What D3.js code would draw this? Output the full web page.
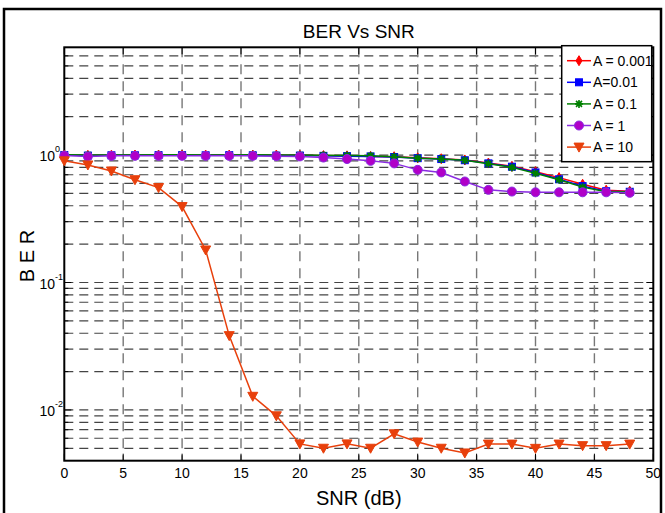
<!DOCTYPE html>
<html><head><meta charset="utf-8">
<script src="https://cdn.jsdelivr.net/npm/d3@7"></script>
<style>body{margin:0;background:#fff}svg{display:block}</style>
</head><body>
<svg id="c" width="665" height="513"></svg>
<script>
const snr = [0,2,4,6,8,10,12,14,16,18,20,22,24,26,28,30,32,34,36,38,40,42,44,46,48];
const berA0001 = [1.0,0.995,0.998,1.0,1.0,1.0,1.0,1.0,1.0,1.0,0.995,0.99,0.985,0.975,0.97,0.95,0.935,0.915,0.865,0.815,0.74,0.665,0.59,0.53,0.52];
const berA001 = [1.0,0.99,0.995,0.995,0.998,0.998,0.995,0.998,0.995,0.99,0.99,0.985,0.98,0.975,0.965,0.945,0.93,0.91,0.86,0.81,0.73,0.645,0.57,0.52,0.515];
const berA01 = [1.005,1.0,1.0,1.0,1.003,1.003,1.0,1.0,1.005,1.0,1.0,0.995,0.99,0.985,0.97,0.945,0.93,0.91,0.855,0.80,0.72,0.64,0.56,0.515,0.515];
const berA1 = [0.99,0.975,0.985,0.985,0.985,0.985,0.985,0.985,0.985,0.98,0.975,0.955,0.93,0.90,0.86,0.765,0.73,0.62,0.533,0.517,0.51,0.51,0.51,0.51,0.505];
const berA10 = [0.90,0.836,0.75,0.64,0.555,0.394,0.18,0.0383,0.0128,0.009,0.00542,0.00501,0.00542,0.00501,0.0065,0.0056,0.00501,0.0046,0.0054,0.0054,0.0050,0.0054,0.00525,0.00525,0.0054];
const seriesNames = ["A = 0.001","A=0.01","A = 0.1","A = 1","A = 10"];
const xTicks = [0,5,10,15,20,25,30,35,40,45,50];
const yDecades = [0.01,0.1,1];
const yDecadeExp = ["-2","-1","0"];

const series = [
  {name:seriesNames[0], data:berA0001, color:"#ff0000", fill:"#ff0000", marker:"diamond"},
  {name:seriesNames[1], data:berA001, color:"#0000ff", fill:"#0000ff", marker:"square"},
  {name:seriesNames[2], data:berA01, color:"#008000", fill:"#008000", marker:"star"},
  {name:seriesNames[3], data:berA1, color:"#8a2be2", fill:"#b000c8", marker:"circle"},
  {name:seriesNames[4], data:berA10, color:"#e8400c", fill:"#e8400c", marker:"tri"}
];

const svg = d3.select("#c");
const L=64.3, R=653.3, T=47.3, B=460.7;
const x = d3.scaleLinear([0,50],[L,R]);
const y = d3.scaleLog([0.004,7],[B,T]);
const font = "'Liberation Sans Narrow','Liberation Sans',Arial,sans-serif";

// outer figure border
svg.append("rect").attr("x",4).attr("y",9).attr("width",657).attr("height",520)
  .attr("fill","#fff").attr("stroke","#000").attr("stroke-width",2.5);
svg.append("rect").attr("x",L).attr("y",T).attr("width",R-L).attr("height",B-T).attr("fill","#fff");

// grid values
const minor = [];
for (const e of [-3,-2,-1,0]) for (let k=1;k<=9;k++){ const v=k*Math.pow(10,e); if(v>0.004*1.0001 && v<7*0.9999) minor.push(v); }
const g = svg.append("g");
g.selectAll(".hg").data(minor).join("line")
  .attr("x1",L).attr("x2",R).attr("y1",d=>y(d)).attr("y2",d=>y(d))
  .attr("stroke","#444").attr("stroke-width",1.2).attr("stroke-dasharray","9,6");
g.selectAll(".vg").data(xTicks.filter(t=>t>0&&t<50)).join("line")
  .attr("x1",d=>x(d)).attr("x2",d=>x(d)).attr("y1",T).attr("y2",B)
  .attr("stroke","#777").attr("stroke-width",1.4).attr("stroke-dasharray","10,7");

// ticks
const tk = svg.append("g").attr("stroke","#000").attr("stroke-width",1);
minor.forEach(v=>{
  const len = yDecades.includes(v)?7:4;
  tk.append("line").attr("x1",L).attr("x2",L+len).attr("y1",y(v)).attr("y2",y(v));
  tk.append("line").attr("x1",R).attr("x2",R-len).attr("y1",y(v)).attr("y2",y(v));
});
xTicks.forEach(t=>{
  tk.append("line").attr("x1",x(t)).attr("x2",x(t)).attr("y1",B).attr("y2",B-7);
  tk.append("line").attr("x1",x(t)).attr("x2",x(t)).attr("y1",T).attr("y2",T+7);
});

// frame
svg.append("rect").attr("x",L).attr("y",T).attr("width",R-L).attr("height",B-T)
  .attr("fill","none").attr("stroke","#000").attr("stroke-width",2);

// tick labels
svg.append("g").selectAll("text").data(xTicks).join("text")
  .attr("x",d=>x(d)).attr("y",478).attr("text-anchor","middle")
  .attr("font-family",font).attr("font-size",14).text(d=>d);
yDecades.forEach((v,i)=>{
  const t = svg.append("text").attr("x",55).attr("y",y(v)+6).attr("text-anchor","end")
    .attr("font-family",font).attr("font-size",14).text("10");
  svg.append("text").attr("x",55).attr("y",y(v)-3).attr("text-anchor","start")
    .attr("font-family",font).attr("font-size",9).text(yDecadeExp[i]);
});

// markers
function marker(sel, type, cx, cy, s){
  const gm = sel.append("g").attr("transform",`translate(${cx},${cy})`)
    .attr("fill",s.fill).attr("stroke",s.color).attr("stroke-width",1);
  if(type==="diamond") gm.append("path").attr("d","M0,-5L3,0L0,5L-3,0Z");
  else if(type==="square") gm.append("rect").attr("x",-3.5).attr("y",-3.5).attr("width",7).attr("height",7);
  else if(type==="star"){ gm.append("path").attr("d","M-4,0H4M0,-4V4M-3,-3L3,3M-3,3L3,-3").attr("stroke-width",1.6); gm.append("circle").attr("r",2); }
  else if(type==="circle") gm.append("circle").attr("r",4.5);
  else if(type==="tri") gm.append("path").attr("d","M-5,-4L5,-4L0,5Z");
}

const line = d3.line().x((d,i)=>x(snr[i])).y(d=>y(d));
series.forEach(s=>{
  const gs = svg.append("g");
  gs.append("path").attr("d",line(s.data)).attr("fill","none")
    .attr("stroke",s.color).attr("stroke-width",1.5);
  s.data.forEach((v,i)=>marker(gs,s.marker,x(snr[i]),y(v),s));
});

// legend
const lx=561.7, ly=45.7, lw=90, lh=116;
svg.append("rect").attr("x",lx).attr("y",ly).attr("width",lw).attr("height",lh)
  .attr("fill","#fff").attr("stroke","#000").attr("stroke-width",1.5);
series.forEach((s,i)=>{
  const yy = 60.7 + i*21.6;
  svg.append("line").attr("x1",567).attr("x2",591).attr("y1",yy).attr("y2",yy)
    .attr("stroke",s.color).attr("stroke-width",1.5);
  marker(svg,s.marker,579,yy,s);
  svg.append("text").attr("x",593).attr("y",yy+5).attr("font-family",font)
    .attr("font-size",14).text(s.name);
});

// titles
svg.append("text").attr("x",(L+R)/2).attr("y",38).attr("text-anchor","middle")
  .attr("font-family",font).attr("font-size",19).text("BER Vs SNR");
svg.append("text").attr("x",(L+R)/2).attr("y",505).attr("text-anchor","middle")
  .attr("font-family",font).attr("font-size",20).text("SNR (dB)");
svg.append("text").attr("transform",`translate(34,256) rotate(-90)`).attr("text-anchor","middle")
  .attr("font-family",font).attr("font-size",20).text("B E R");
</script>
</body></html>
